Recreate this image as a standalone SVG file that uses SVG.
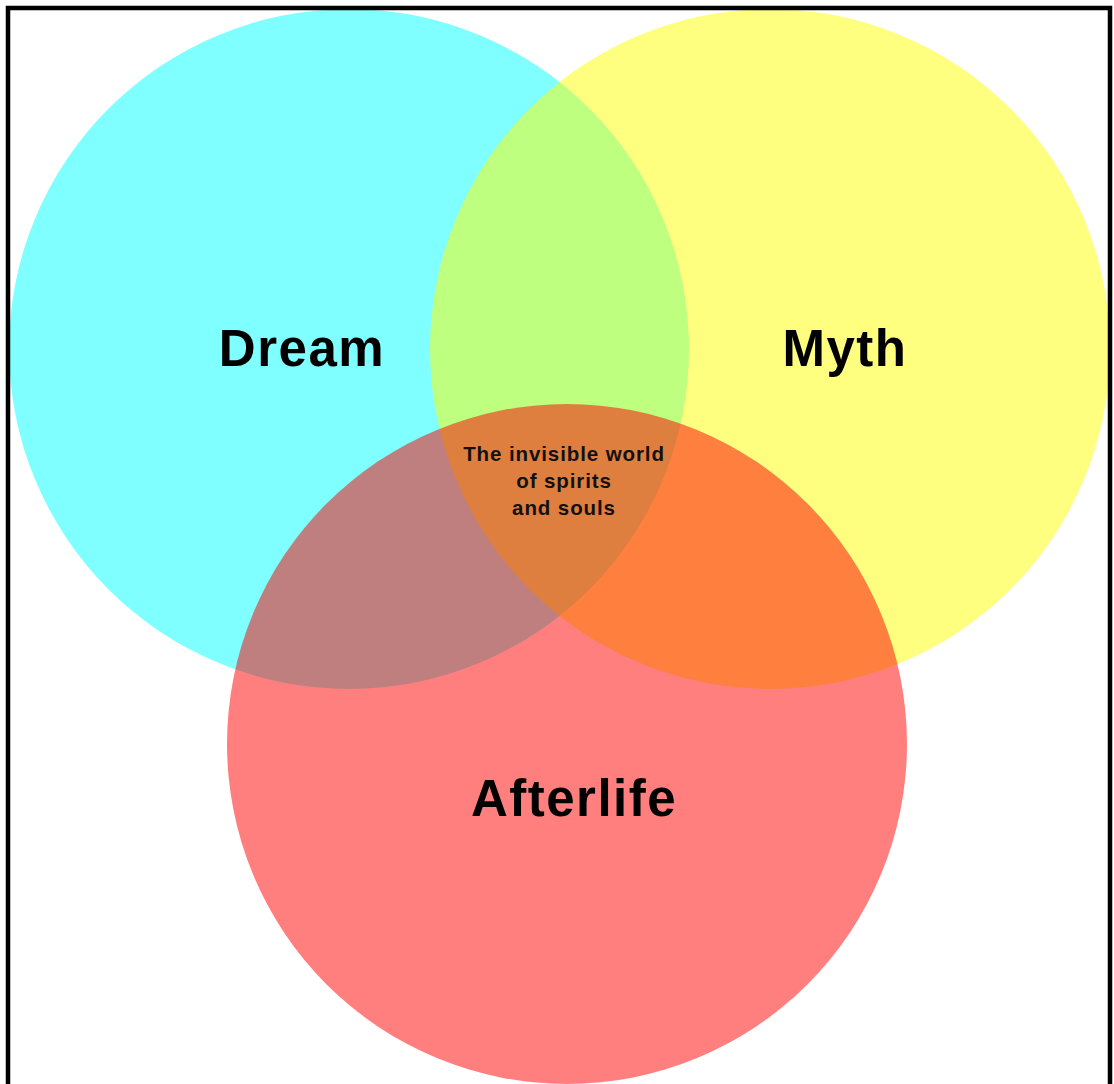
<svg xmlns="http://www.w3.org/2000/svg" width="1114" height="1084" viewBox="0 0 1114 1084">
<style>
.c{fill-opacity:0.5;stroke:none}
.big{font-family:"Liberation Sans",Arial,sans-serif;font-weight:bold;font-size:51px;fill:#000;text-anchor:middle;letter-spacing:1.5px}
.small{font-family:"Liberation Sans",Arial,sans-serif;font-weight:bold;font-size:20.5px;fill:#111;text-anchor:middle;letter-spacing:0.9px}
</style>
<rect x="0" y="0" width="1114" height="1084" fill="#fff"/>
<g id="dream"><circle class="c" cx="349" cy="349" r="340" fill="#00ffff"/></g>
<g id="myth"><circle class="c" cx="770" cy="349" r="340" fill="#ffff00"/></g>
<g id="afterlife"><circle class="c" cx="567" cy="744" r="340" fill="#ff0000"/></g>
<g id="labels">
<text class="big" x="302" y="366">Dream</text>
<text class="big" x="845" y="366">Myth</text>
<text class="big" x="574" y="816">Afterlife</text>
</g>
<g id="center">
<text class="small" x="564" y="461">The invisible world</text>
<text class="small" x="564" y="488">of spirits</text>
<text class="small" x="564" y="515">and souls</text>
</g>
<g id="connectors"/>
<path d="M8 1090 V8 H1110 V1090" fill="none" stroke="#000" stroke-width="4.5"/>
</svg>
